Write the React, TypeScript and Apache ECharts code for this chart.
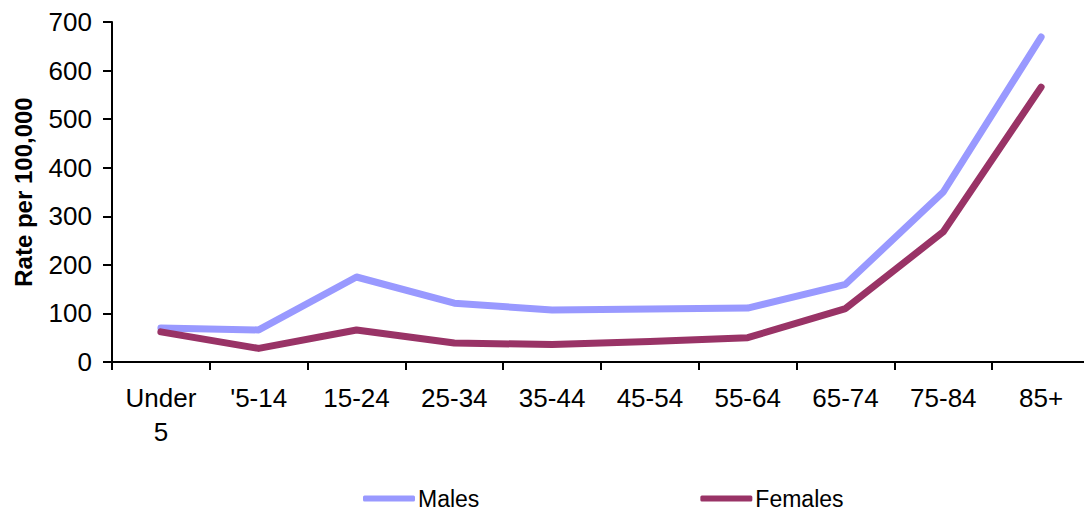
import React, { useEffect, useRef } from "react";
import * as echarts from "echarts";

const categories = ["Under\n5", "'5-14", "15-24", "25-34", "35-44", "45-54", "55-64", "65-74", "75-84", "85+"];
const males = [70, 66, 175, 121, 107, 109, 111, 160, 350, 669];
const females = [62, 28, 66, 39, 36, 42, 50, 110, 268, 566];
const yTicks = { min: 0, max: 700, interval: 100 };

export default function App() {
  const ref = useRef<HTMLDivElement>(null);
  useEffect(() => {
    if (!ref.current) return;
    const chart = echarts.init(ref.current, undefined, { renderer: "svg" });
    const font = "Liberation Sans, Arial, sans-serif";
    chart.setOption({
      animation: false,
      grid: { left: 112, right: 0, top: 22, bottom: 150 },
      legend: {
        left: 358,
        top: 482,
        itemGap: 221,
        itemWidth: 52,
        itemHeight: 6,
        icon: "roundRect",
        textStyle: { fontFamily: font, fontSize: 23, color: "#000", padding: [0, 0, 0, -2] },
        data: ["Males", "Females"],
      },
      xAxis: {
        type: "category",
        data: categories,
        boundaryGap: true,
        axisLine: { lineStyle: { color: "#000", width: 2 } },
        axisTick: { show: true, length: 8, lineStyle: { color: "#000", width: 2 }, alignWithLabel: false },
        axisLabel: { fontFamily: font, fontSize: 26, color: "#000", margin: 19, lineHeight: 34, interval: 0 },
      },
      yAxis: {
        type: "value",
        min: yTicks.min,
        max: yTicks.max,
        interval: yTicks.interval,
        name: "Rate per 100,000",
        nameLocation: "middle",
        nameGap: 77,
        nameRotate: 90,
        nameTextStyle: { fontFamily: font, fontSize: 24, fontWeight: "bold", color: "#000" },
        splitLine: { show: false },
        axisLine: { show: true, lineStyle: { color: "#000", width: 2 } },
        axisTick: { show: true, length: 9, lineStyle: { color: "#000", width: 2 } },
        axisLabel: { fontFamily: font, fontSize: 26, color: "#000", margin: 20 },
      },
      series: [
        {
          name: "Males",
          type: "line",
          data: males,
          symbol: "none",
          color: "#9999FF",
          lineStyle: { width: 7, color: "#9999FF", cap: "round", join: "round" },
        },
        {
          name: "Females",
          type: "line",
          data: females,
          symbol: "none",
          color: "#993366",
          lineStyle: { width: 7, color: "#993366", cap: "round", join: "round" },
        },
      ],
    });
    return () => chart.dispose();
  }, []);
  return (
    <div style={{ position: "fixed", left: 0, top: 0, width: 1084, height: 512, overflow: "hidden", background: "#fff" }}>
      <div ref={ref} style={{ width: 1090, height: 512 }} />
    </div>
  );
}
